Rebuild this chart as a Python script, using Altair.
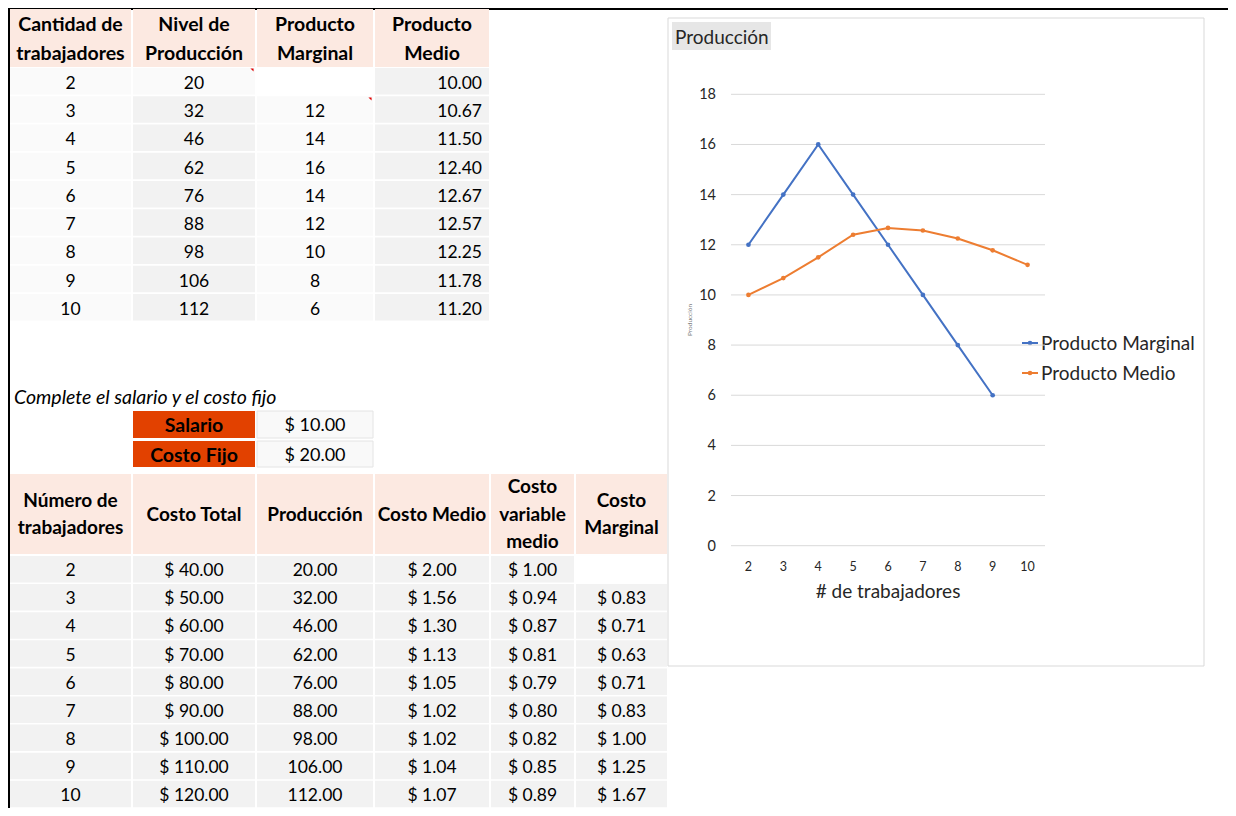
import altair as alt
import pandas as pd

# ------------------------------------------------------------------ data
trabajadores = [2, 3, 4, 5, 6, 7, 8, 9, 10]
nivel_produccion = [20, 32, 46, 62, 76, 88, 98, 106, 112]
producto_marginal = [None, 12, 14, 16, 14, 12, 10, 8, 6]
producto_medio = [10.00, 10.67, 11.50, 12.40, 12.67, 12.57, 12.25, 11.78, 11.20]
tabla1_encabezados = ["Cantidad de\ntrabajadores", "Nivel de\nProducción",
                      "Producto\nMarginal", "Producto\nMedio"]

nota = "Complete el salario y el costo fijo"
parametros = ["Salario", "Costo Fijo"]
valores_parametros = [10.00, 20.00]

tabla2_encabezados = ["Número de\ntrabajadores", "Costo Total", "Producción",
                      "Costo Medio", "Costo\nvariable\nmedio", "Costo\nMarginal"]
costo_total = [40, 50, 60, 70, 80, 90, 100, 110, 120]
produccion = [20, 32, 46, 62, 76, 88, 98, 106, 112]
costo_medio = [2.00, 1.56, 1.30, 1.13, 1.05, 1.02, 1.02, 1.04, 1.07]
costo_variable_medio = [1.00, 0.94, 0.87, 0.81, 0.79, 0.80, 0.82, 0.85, 0.89]
costo_marginal = [None, 0.83, 0.71, 0.63, 0.71, 0.83, 1.00, 1.25, 1.67]

grafico_titulo = "Producción"
grafico_categorias = [2, 3, 4, 5, 6, 7, 8, 9, 10]
serie_marginal = [12, 14, 16, 14, 12, 10, 8, 6, None]
serie_medio = [10.00, 10.67, 11.50, 12.40, 12.67, 12.57, 12.25, 11.78, 11.20]
series = ["Producto Marginal", "Producto Medio"]
colores = ["#4472C4", "#ED7D31"]
y_ticks = [0, 2, 4, 6, 8, 10, 12, 14, 16, 18]
x_titulo = "# de trabajadores"
y_titulo = "Producción"

# ------------------------------------------------------------------ layout (page pixels)
FONT = "Lato"
HEAD_FILL = "#FCE9E1"
GRAY = "#F2F2F2"
LIGHT = "#FAFAFA"
DATA_SIZE = 17.5
HEAD_SIZE = 19.5
DY = 2.5
T1_COLS = [(10, 131), (133, 255), (257, 373), (375, 489)]
T1_HEAD = (9, 67)
T1_TOP, T1_PITCH, ROW_H = 68, 28.25, 26.5
T1_LH = 29
T2_COLS = [(10, 131), (133, 255), (257, 373), (375, 489), (491, 574), (576, 667)]
T2_HEAD = (474, 554)
T2_TOP, T2_PITCH = 556, 28.1
T2_LH = 27.5
PARAM_ROWS = [(411, 438), (441, 467)]
NOTE_POS = (14, 397)
BOX = (668, 1204, 18, 666)
TITLE_BOX = (672, 771, 22, 50)
LEG_X = (1022, 1038, 1041)
LEG_Y = [343, 373]

PX = alt.Scale(domain=[8, 1228], range=[0, 1220], nice=False, zero=False)
PY = alt.Scale(domain=[8, 808], range=[0, 800], nice=False, zero=False)
CX = alt.Scale(domain=[1.5, 10.5], range=[723, 1037], nice=False, zero=False)
CY = alt.Scale(domain=[0, 18], range=[537.7, 86.3], nice=False, zero=False)


def rect_layer(rows, **kw):
    df = pd.DataFrame(rows, columns=["x1", "x2", "y1", "y2", "fill"])
    return alt.Chart(df).mark_rect(**kw).encode(
        x=alt.X("x1:Q", scale=PX, axis=None), x2="x2:Q",
        y=alt.Y("y1:Q", scale=PY, axis=None), y2="y2:Q",
        fill=alt.Fill("fill:N", scale=None))


def text_layer(rows, **kw):
    df = pd.DataFrame(rows, columns=["x", "y", "t"])
    props = dict(font=FONT, baseline="middle", color="#000000")
    props.update(kw)
    return alt.Chart(df).mark_text(**props).encode(
        x=alt.X("x:Q", scale=PX, axis=None),
        y=alt.Y("y:Q", scale=PY, axis=None),
        text="t:N")


def first_line_y(center, label, lh):
    n = label.count("\n") + 1
    return center - (n - 1) * lh / 2


layers = []

# outer black border
layers.append(alt.Chart(pd.DataFrame({"x1": [8, 9], "x2": [1228, 9], "y1": [9, 8], "y2": [9, 808]}))
              .mark_rule(color="#000000", strokeWidth=2)
              .encode(x=alt.X("x1:Q", scale=PX, axis=None), x2="x2:Q",
                      y=alt.Y("y1:Q", scale=PY, axis=None), y2="y2:Q"))

# ---------------- table 1
t1_rects, t1_head_txt, t1_center, t1_right = [], [], [], []
for j, (a, b) in enumerate(T1_COLS):
    t1_rects.append((a, b, T1_HEAD[0], T1_HEAD[1], HEAD_FILL))
    lab = tabla1_encabezados[j]
    t1_head_txt.append(((a + b) / 2, first_line_y((T1_HEAD[0] + T1_HEAD[1]) / 2, lab, T1_LH), lab))
t1_values = [
    [str(v) for v in trabajadores],
    [str(v) for v in nivel_produccion],
    ["" if v is None else str(v) for v in producto_marginal],
    [f"{v:.2f}" for v in producto_medio],
]
for i in range(len(trabajadores)):
    top = T1_TOP + i * T1_PITCH
    fills = [LIGHT, LIGHT, "#FFFFFF", GRAY] if i == 0 else [LIGHT, GRAY, LIGHT, GRAY]
    for j, (a, b) in enumerate(T1_COLS):
        t1_rects.append((a, b, top, top + ROW_H, fills[j]))
        txt = t1_values[j][i]
        if not txt:
            continue
        if j == 3:
            t1_right.append((b - 7, top + ROW_H / 2, txt))
        else:
            t1_center.append(((a + b) / 2, top + ROW_H / 2, txt))
layers.append(rect_layer(t1_rects))
layers.append(text_layer(t1_head_txt, fontWeight="bold", fontSize=HEAD_SIZE, align="center",
                         lineBreak="\n", lineHeight=T1_LH, dy=DY - 1))
layers.append(text_layer(t1_center, fontSize=DATA_SIZE, align="center", dy=DY))
layers.append(text_layer(t1_right, fontSize=DATA_SIZE, align="right", dy=DY))

# comment indicators
layers.append(alt.Chart(pd.DataFrame({"x": [252, 370], "y": [70, 99]})).mark_point(
    shape="M-1,-1L1,-1L1,1Z", size=10, filled=True, color="#E00000", opacity=1)
    .encode(x=alt.X("x:Q", scale=PX, axis=None), y=alt.Y("y:Q", scale=PY, axis=None)))

# ---------------- parameters
layers.append(text_layer([(NOTE_POS[0], NOTE_POS[1], nota)], fontSize=19.5, align="left",
                         fontStyle="italic", dy=0.5))
p_lab, p_val, p_ltxt, p_vtxt = [], [], [], []
for k, (y1, y2) in enumerate(PARAM_ROWS):
    a, b = T2_COLS[1]
    c, d = T2_COLS[2]
    p_lab.append((a, b, y1, y2, "#E24100"))
    p_val.append((c, d, y1, y2, "#F9F9F9"))
    p_ltxt.append(((a + b) / 2, (y1 + y2) / 2, parametros[k]))
    p_vtxt.append(((c + d) / 2, (y1 + y2) / 2, f"$ {valores_parametros[k]:.2f}"))
layers.append(rect_layer(p_lab))
layers.append(rect_layer(p_val, stroke="#E4E4E4", strokeWidth=1))
layers.append(text_layer(p_ltxt, fontWeight="bold", fontSize=HEAD_SIZE, align="center", dy=DY - 1))
layers.append(text_layer(p_vtxt, fontSize=DATA_SIZE + 0.5, align="center", dy=DY - 1))

# ---------------- table 2
t2_rects, t2_head_txt, t2_center = [], [], []
for j, (a, b) in enumerate(T2_COLS):
    t2_rects.append((a, b, T2_HEAD[0], T2_HEAD[1], HEAD_FILL))
    lab = tabla2_encabezados[j]
    t2_head_txt.append(((a + b) / 2, first_line_y((T2_HEAD[0] + T2_HEAD[1]) / 2, lab, T2_LH), lab))
t2_values = [
    [str(v) for v in trabajadores],
    [f"$ {v:.2f}" for v in costo_total],
    [f"{v:.2f}" for v in produccion],
    [f"$ {v:.2f}" for v in costo_medio],
    [f"$ {v:.2f}" for v in costo_variable_medio],
    ["" if v is None else f"$ {v:.2f}" for v in costo_marginal],
]
for i in range(len(trabajadores)):
    top = T2_TOP + i * T2_PITCH
    for j, (a, b) in enumerate(T2_COLS):
        txt = t2_values[j][i]
        t2_rects.append((a, b, top, top + ROW_H, GRAY if txt else "#FFFFFF"))
        if txt:
            t2_center.append(((a + b) / 2, top + ROW_H / 2, txt))
layers.append(rect_layer(t2_rects))
layers.append(text_layer(t2_head_txt, fontWeight="bold", fontSize=HEAD_SIZE - 0.5, align="center",
                         lineBreak="\n", lineHeight=T2_LH, dy=0.5))
layers.append(text_layer(t2_center, fontSize=DATA_SIZE, align="center", dy=DY - 0.5))

# ---------------- chart frame, title, axis titles, legend
layers.append(rect_layer([(BOX[0], BOX[1], BOX[2], BOX[3], "#FFFFFF")],
                         stroke="#D9D9D9", strokeWidth=1))
layers.append(rect_layer([(TITLE_BOX[0], TITLE_BOX[1], TITLE_BOX[2], TITLE_BOX[3], "#E6E6E6")]))
layers.append(text_layer([(TITLE_BOX[0] + 3, (TITLE_BOX[2] + TITLE_BOX[3]) / 2 + 1, grafico_titulo)],
                         fontSize=19, align="left", color="#262626", dy=1))
layers.append(text_layer([(888, 591, x_titulo)], fontSize=19, align="center", color="#262626", dy=1))
layers.append(text_layer([(690, 320, y_titulo)], fontSize=6.5, align="center", angle=270,
                         color="#7F7F7F"))

leg = pd.DataFrame({"serie": series, "col": colores, "y": LEG_Y,
                    "x1": [LEG_X[0]] * 2, "x2": [LEG_X[1]] * 2,
                    "xm": [(LEG_X[0] + LEG_X[1]) / 2] * 2, "xt": [LEG_X[2]] * 2})
layers.append(alt.Chart(leg).mark_rule(strokeWidth=2).encode(
    x=alt.X("x1:Q", scale=PX, axis=None), x2="x2:Q",
    y=alt.Y("y:Q", scale=PY, axis=None), color=alt.Color("col:N", scale=None)))
layers.append(alt.Chart(leg).mark_circle(size=22, opacity=1).encode(
    x=alt.X("xm:Q", scale=PX, axis=None),
    y=alt.Y("y:Q", scale=PY, axis=None), color=alt.Color("col:N", scale=None)))
layers.append(alt.Chart(leg).mark_text(font=FONT, fontSize=19, align="left", baseline="middle",
                                       color="#262626", dy=1).encode(
    x=alt.X("xt:Q", scale=PX, axis=None),
    y=alt.Y("y:Q", scale=PY, axis=None), text="serie:N"))

pix = alt.layer(*layers)

# ---------------- chart with its own scales
df_series = pd.DataFrame({
    "cat": grafico_categorias * 2,
    "valor": serie_marginal + serie_medio,
    "serie": [series[0]] * len(grafico_categorias) + [series[1]] * len(grafico_categorias),
}).dropna()
color_enc = alt.Color("serie:N", scale=alt.Scale(domain=series, range=colores), legend=None)

grid = alt.Chart(pd.DataFrame({"v": y_ticks})).mark_rule(color="#D9D9D9", strokeWidth=1).encode(
    y=alt.Y("v:Q", scale=CY, axis=None), x=alt.value(723), x2=alt.value(1037))
ylab = alt.Chart(pd.DataFrame({"v": y_ticks})).mark_text(
    font=FONT, fontSize=14.5, align="right", baseline="middle", color="#262626", dy=1).encode(
    y=alt.Y("v:Q", scale=CY, axis=None), x=alt.value(708), text="v:Q")
xlab = alt.Chart(pd.DataFrame({"v": grafico_categorias})).mark_text(
    font=FONT, fontSize=12.5, align="center", baseline="middle", color="#262626", dy=1).encode(
    x=alt.X("v:Q", scale=CX, axis=None), y=alt.value(558), text="v:Q")
lines = alt.Chart(df_series).mark_line(strokeWidth=2).encode(
    x=alt.X("cat:Q", scale=CX, axis=None), y=alt.Y("valor:Q", scale=CY, axis=None),
    color=color_enc)
pts = alt.Chart(df_series).mark_circle(size=22, opacity=1).encode(
    x=alt.X("cat:Q", scale=CX, axis=None), y=alt.Y("valor:Q", scale=CY, axis=None),
    color=color_enc)

cht = alt.layer(grid, ylab, xlab, lines, pts)

chart = alt.layer(pix, cht).resolve_scale(
    x="independent", y="independent", color="independent"
).properties(
    width=1220, height=800, padding=0,
    autosize=alt.AutoSizeParams(type="none"), background="white"
).configure_view(stroke=None)

chart.save("out.html", embed_options={"renderer": "svg", "actions": False})
